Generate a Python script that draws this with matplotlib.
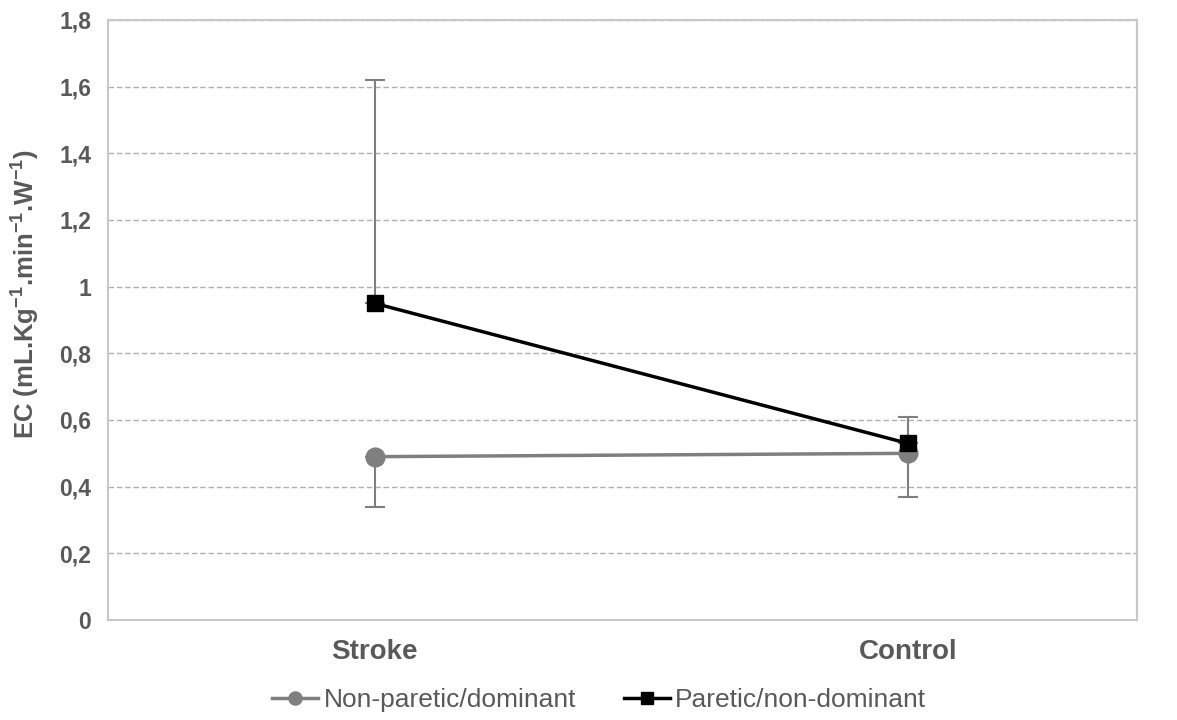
import numpy as np
import matplotlib
matplotlib.use("Agg")
import matplotlib.pyplot as plt

plt.rcParams['font.family'] = ['Liberation Sans', 'DejaVu Sans']

# data
groups = ["Stroke", "Control"]
non_paretic = [0.49, 0.50]
non_paretic_err = [0.15, 0.13]   # lower only
paretic = [0.95, 0.53]
paretic_err = [0.67, 0.08]       # upper only
yticks = [0, 0.2, 0.4, 0.6, 0.8, 1.0, 1.2, 1.4, 1.6, 1.8]
ytick_labels = ["0", "0,2", "0,4", "0,6", "0,8", "1", "1,2", "1,4", "1,6", "1,8"]

txt = "#595959"
xpos = np.arange(len(groups))

fig = plt.figure(figsize=(11.77, 7.2), dpi=100)
ax = fig.add_axes([108/1177, 100/720, 1029/1177, 600/720])

# error bars
ax.errorbar(xpos, non_paretic, yerr=[non_paretic_err, [0, 0]], fmt="none",
            ecolor="#7f7f7f", elinewidth=1.5, capsize=7, capthick=1.5, zorder=2)
ax.errorbar(xpos, paretic, yerr=[[0, 0], paretic_err], fmt="none",
            ecolor="#7f7f7f", elinewidth=1.5, capsize=7, capthick=1.5, zorder=2)

ax.plot(xpos, non_paretic, color="#7f7f7f", lw=2.5, marker="o", ms=13.5,
        label="Non-paretic/dominant", zorder=3)
ax.plot(xpos, paretic, color="black", lw=2.5, marker="s", ms=12,
        label="Paretic/non-dominant", zorder=4)

ax.set_ylim(0, 1.8)
ax.set_xlim(-0.5, 1.43)
ax.set_yticks(yticks)
ax.set_yticklabels(ytick_labels)
ax.set_xticks(xpos)
ax.set_xticklabels(groups)
ax.tick_params(length=0, colors=txt)
ax.tick_params(axis="y", labelsize=16.5, pad=12)
ax.tick_params(axis="x", labelsize=20, pad=14)
for lab in ax.get_xticklabels() + ax.get_yticklabels():
    lab.set_fontweight("bold")

ax.grid(axis="y", color="#b0b0b0", ls=(0, (4, 2)), lw=1)
ax.set_axisbelow(True)
for s in ax.spines.values():
    s.set_color("#c8c8c8")
    s.set_linestyle((0, (1, 1)))
    s.set_linewidth(1.5)

fig.text(0.021, 0.592,
         "EC (mL.Kg$^{\\mathregular{-1}}$.min$^{\\mathregular{-1}}$.W$^{\\mathregular{-1}}$)",
         rotation=90, ha="center", va="center",
         fontsize=18.5, fontweight="bold", color=txt)

leg = fig.legend(loc="center", bbox_to_anchor=(0.509, 0.028), ncol=2,
                 frameon=False, fontsize=19, handlelength=1.75, handletextpad=0.2,
                 columnspacing=1.8, markerscale=0.7)
for t in leg.get_texts():
    t.set_color(txt)

fig.savefig("out.png", dpi=100)
